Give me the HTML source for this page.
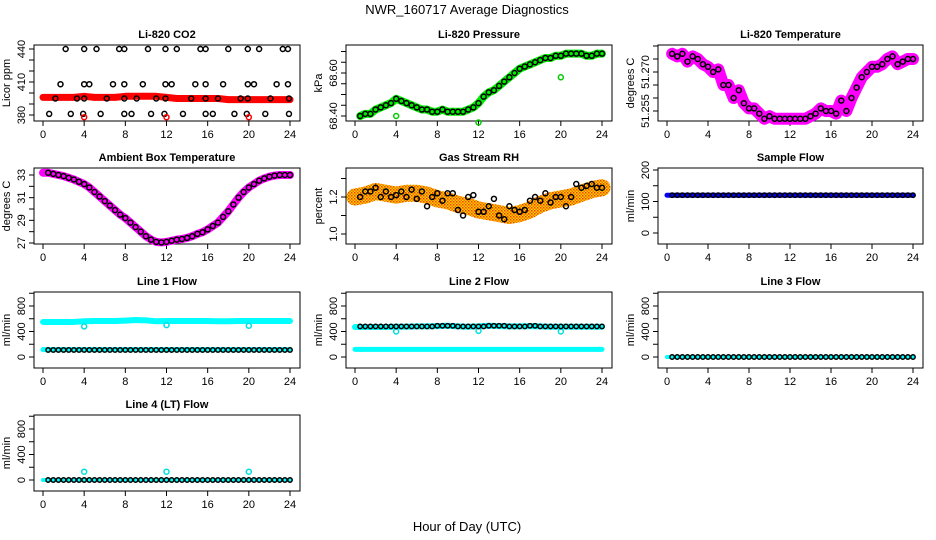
<!DOCTYPE html>
<html><head><meta charset="utf-8"><style>
html,body{margin:0;padding:0;background:#fff;}
svg{display:block;font-family:"Liberation Sans",sans-serif;}
</style></head><body>
<svg id="chart" width="936" height="540" viewBox="0 0 936 540">
<defs>
<pattern id="rhpat" width="3" height="3" patternUnits="userSpaceOnUse"><rect width="3" height="3" fill="#ffd000"/><rect width="1.5" height="1.5" fill="#f04000"/><rect x="1.5" y="1.5" width="1.5" height="1.5" fill="#f07000"/></pattern>
</defs>
<text x="467" y="14" text-anchor="middle" font-size="13">NWR_160717  Average Diagnostics</text>
<text x="467" y="531" text-anchor="middle" font-size="13">Hour of Day (UTC)</text>
</svg>
<script>
// ---- data ----
const halfHours = [0.5,1,1.5,2,2.5,3,3.5,4,4.5,5,5.5,6,6.5,7,7.5,8,8.5,9,9.5,10,10.5,11,11.5,12,12.5,13,13.5,14,14.5,15,15.5,16,16.5,17,17.5,18,18.5,19,19.5,20,20.5,21,21.5,22,22.5,23,23.5,24];
const hours = [0,1,2,3,4,5,6,7,8,9,10,11,12,13,14,15,16,17,18,19,20,21,22,23,24];
const xTicks = [0,4,8,12,16,20,24];

const co2T440 = [2.2,4,5.2,7.4,7.9,10.2,11.9,13,15.3,15.8,18,19.9,21,23.3,23.8];
const co2T410 = [1.7,4,4.5,6.8,7.9,9.7,11.9,12.5,14.8,15.8,17.5,19.9,20.5,22.7,23.8];
const co2T394 = [1.2,3.3,4,6.2,7.9,9.1,11,11.9,14.4,15.8,17,19.2,19.9,22.1,23.9];
const co2T381 = [0.6,2.7,3.9,5.6,7.9,8.6,10.5,11.8,13.6,15.8,16.5,18.6,19.8,21.6,23.9];
const co2Red = [396,396,396,396,397,396,396,396,397,397,397,397,396,395,395,395,395,395,394,394,394,394,394,394,394];
const co2RedOut = [4,12,20];

const pressure = [68.40,68.41,68.41,68.43,68.44,68.45,68.46,68.48,68.47,68.46,68.45,68.44,68.43,68.43,68.42,68.42,68.43,68.42,68.42,68.42,68.42,68.43,68.44,68.46,68.49,68.51,68.52,68.54,68.56,68.58,68.60,68.62,68.63,68.64,68.65,68.66,68.67,68.67,68.68,68.68,68.69,68.69,68.69,68.69,68.68,68.68,68.69,68.69];
const liTemp = [51.277,51.276,51.277,51.274,51.276,51.275,51.273,51.272,51.270,51.271,51.265,51.265,51.260,51.263,51.258,51.256,51.256,51.254,51.252,51.253,51.252,51.252,51.252,51.252,51.252,51.252,51.252,51.253,51.254,51.256,51.255,51.255,51.254,51.259,51.255,51.260,51.264,51.268,51.270,51.272,51.272,51.273,51.275,51.276,51.273,51.274,51.275,51.275];
const ambient = [33.2,33.1,33.0,32.9,32.75,32.6,32.4,32.2,31.9,31.5,31.1,30.7,30.3,29.9,29.5,29.2,28.8,28.4,28.0,27.6,27.3,27.1,27.05,27.1,27.2,27.3,27.35,27.45,27.6,27.8,27.95,28.2,28.5,28.8,29.3,29.8,30.4,31.0,31.5,31.9,32.2,32.5,32.7,32.85,32.95,33.0,33.0,33.0];
const rh = [1.20,1.23,1.23,1.25,1.20,1.23,1.20,1.21,1.23,1.20,1.24,1.19,1.23,1.15,1.20,1.22,1.18,1.22,1.22,1.13,1.10,1.20,1.21,1.12,1.12,1.15,1.19,1.10,1.08,1.15,1.13,1.12,1.13,1.18,1.20,1.18,1.22,1.17,1.20,1.20,1.15,1.20,1.27,1.25,1.26,1.27,1.25,1.25];
const rhBand = [1.20,1.21,1.23,1.22,1.21,1.22,1.22,1.21,1.19,1.18,1.16,1.15,1.13,1.12,1.11,1.10,1.11,1.13,1.16,1.18,1.19,1.20,1.22,1.24,1.25];
const sampleFlow = [120,120,120,120,120,120,120,120,120,120,120,120,120,120,120,120,120,120,120,120,120,120,120,120,120];
const line1High = [550,550,550,550,560,565,565,565,570,580,575,560,565,565,565,565,565,560,560,565,565,565,565,565,565];
const line1Low = [115,115,115,115,115,115,115,115,115,115,115,115,115,115,115,115,115,115,115,115,115,115,115,115,115];
const line1Black = [110,110,110,110,110,110,110,110,110,110,110,110,110,110,110,110,110,110,110,110,110,110,110,110,110];
const line2High = [470,470,470,470,475,475,480,480,485,490,480,475,480,490,485,480,480,485,480,475,475,475,475,475,475];
const line2Low = [120,120,120,120,120,120,120,120,120,120,120,120,120,120,120,120,120,120,120,120,120,120,120,120,120];
const line2Black = [480,480,480,480,480,480,480,480,490,490,480,480,480,490,490,480,480,490,480,480,480,480,480,480,480];
const line3Flow = [0,0,0,0,0,0,0,0,0,0,0,0,0,0,0,0,0,0,0,0,0,0,0,0,0];
const line4Flow = [0,0,0,0,0,0,0,0,0,0,0,0,0,0,0,0,0,0,0,0,0,0,0,0,0];
const outlierHours = [4,12,20];
const line1Out = [480,500,490];
const line2Out = [400,410,400];
const line4Out = [130,130,130];
const pressOutT = [4,12,20];
const pressOut = [68.40,68.37,68.58];

const NS = "http://www.w3.org/2000/svg";
const svg = document.getElementById('chart');
function mk(tag, attrs, parent){ const e=document.createElementNS(NS,tag); for(const k in attrs) e.setAttribute(k,attrs[k]); (parent||svg).appendChild(e); return e; }

const colL=[34,346,658], colR=[300,612,923], rowT=[45,168,292,415], H=76;

function makePanel(cfg){
  const L=colL[cfg.col], R=colR[cfg.col], T=rowT[cfg.row], B=T+H;
  const g = mk('g',{});
  
  
  const xs = t => (L+9) + t*((R-10)-(L+9))/24;
  const ys = v => cfg.p1 + (v-cfg.v1)*(cfg.p2-cfg.p1)/(cfg.v2-cfg.v1);
  const title = mk('text',{x:(L+R)/2,y:T-7,'text-anchor':'middle','font-size':11,'font-weight':'bold'},g);
  title.textContent = cfg.title;
  
  
  const box = mk('rect',{x:L,y:T,width:R-L,height:H,fill:'none',stroke:'#000','stroke-width':1},g);
  
  
  xTicks.forEach(t=>{
    mk('line',{x1:xs(t),x2:xs(t),y1:B,y2:B+5,stroke:'#000'},g);
    const tl = mk('text',{x:xs(t),y:B+17,'text-anchor':'middle','font-size':11},g);
    tl.textContent = t;
    
    
  });
  cfg.yticks.forEach(v=>{ const y=ys(v); if(y>=T-1&&y<=B+1) mk('line',{x1:L-5,x2:L,y1:y,y2:y,stroke:'#000'},g); });
  cfg.ylabels.forEach((lab,i)=>{
    const y=ys(cfg.ylabelVals[i]);
    const tl = mk('text',{x:L-9,y:y,'text-anchor':'middle','font-size':11,transform:`rotate(-90 ${L-9} ${y})`},g);
    tl.textContent = lab;
    
    
  });
  const yt = mk('text',{x:L-24,y:(T+B)/2,'text-anchor':'middle','font-size':11,transform:`rotate(-90 ${L-24} ${(T+B)/2})`},g);
  yt.textContent = cfg.ylab;
  
  
  return {g,xs,ys};
}
function band(p, ts, vals, color, w, name){
  const pts = ts.map((t,i)=>p.xs(t)+','+p.ys(vals[i])).join(' ');
  const pl = mk('polyline',{points:pts,fill:'none',stroke:color,'stroke-width':w,'stroke-linejoin':'round','stroke-linecap':'round'},p.g);
  
  
}
function dots(p, ts, vals, color, name, r){
  ts.forEach((t,i)=>{
    const c = mk('circle',{cx:p.xs(t),cy:p.ys(vals[i]),r:r||2.5,fill:'none',stroke:color,'stroke-width':1.5},p.g);
    
    
  });
}
const range=(a,b,s)=>{const r=[];for(let v=a;v<=b+1e-9;v+=s) r.push(+v.toFixed(4));return r;};

// CO2
let p = makePanel({name:'panel-co2',col:0,row:0,title:'Li-820 CO2',ylab:'Licor ppm',v1:380,p1:115,v2:440,p2:49,yticks:range(380,440,10),ylabels:['380','410','440'],ylabelVals:[380,410,440]});
band(p,hours,co2Red,'#ff0000',7,'co2-band');
dots(p,co2T440,co2T440.map(()=>440),'#000','co2-point');
dots(p,co2T410,co2T410.map(()=>408),'#000','co2-point');
dots(p,co2T394,co2T394.map(()=>395),'#000','co2-point');
dots(p,co2T381,co2T381.map(()=>381),'#000','co2-point');
dots(p,co2RedOut,co2RedOut.map(()=>378),'#ff0000','co2-outlier');

// Pressure
p = makePanel({name:'panel-pressure',col:1,row:0,title:'Li-820 Pressure',ylab:'kPa',v1:68.40,p1:116,v2:68.60,p2:73,yticks:range(68.40,68.70,0.05),ylabels:['68.40','68.60'],ylabelVals:[68.40,68.60]});
band(p,halfHours,pressure,'#00ee00',8,'pressure-band');
dots(p,pressOutT,pressOut,'#00cc00','pressure-outlier');
dots(p,halfHours,pressure,'#000','pressure-point');

// Li temperature
p = makePanel({name:'panel-li-temperature',col:2,row:0,title:'Li-820 Temperature',ylab:'degrees C',v1:51.255,p1:111,v2:51.270,p2:72,yticks:range(51.255,51.280,0.005),ylabels:['51.255','51.270'],ylabelVals:[51.255,51.270]});
band(p,halfHours,liTemp,'#ff00ff',12,'li-temp-band');
dots(p,halfHours,liTemp,'#000','li-temp-point');

// Ambient
p = makePanel({name:'panel-ambient-temperature',col:0,row:1,title:'Ambient Box Temperature',ylab:'degrees C',v1:27,p1:243,v2:33,p2:175,yticks:range(27,33,1),ylabels:['27','29','31','33'],ylabelVals:[27,29,31,33]});
band(p,[0].concat(halfHours),[33.2].concat(ambient),'#ff00ff',8,'ambient-band');
dots(p,halfHours,ambient,'#000','ambient-point');

// RH
p = makePanel({name:'panel-gas-rh',col:1,row:1,title:'Gas Stream RH',ylab:'percent',v1:1.0,p1:234,v2:1.2,p2:197,yticks:range(1.0,1.3,0.1),ylabels:['1.0','1.2'],ylabelVals:[1.0,1.2]});
band(p,hours,rhBand,'url(#rhpat)',17,'rh-band');
dots(p,halfHours,rh,'#000','rh-point');

// Sample flow
p = makePanel({name:'panel-sample-flow',col:2,row:1,title:'Sample Flow',ylab:'ml/min',v1:0,p1:233,v2:200,p2:170,yticks:range(0,200,50),ylabels:['0','100','200'],ylabelVals:[0,100,200]});
band(p,hours,sampleFlow,'#0000ff',5,'sample-flow-band');
dots(p,halfHours,halfHours.map(()=>120),'#000','sample-flow-point',2.2);

const flowTicks = range(0,1000,200);
// Line 1
p = makePanel({name:'panel-line1-flow',col:0,row:2,title:'Line 1 Flow',ylab:'ml/min',v1:0,p1:357,v2:800,p2:306,yticks:flowTicks,ylabels:['0','400','800'],ylabelVals:[0,400,800]});
band(p,hours,line1High,'#00ffff',6,'line1-high-band');
band(p,hours,line1Low,'#00ffff',5,'line1-low-band');
dots(p,outlierHours,line1Out,'#00e0e0','line1-outlier');
dots(p,halfHours,halfHours.map(t=>line1Black[Math.floor(t)]),'#000','line1-point',2.2);

// Line 2
p = makePanel({name:'panel-line2-flow',col:1,row:2,title:'Line 2 Flow',ylab:'ml/min',v1:0,p1:357,v2:800,p2:306,yticks:flowTicks,ylabels:['0','400','800'],ylabelVals:[0,400,800]});
band(p,hours,line2High,'#00ffff',6,'line2-high-band');
band(p,hours,line2Low,'#00ffff',5,'line2-low-band');
dots(p,outlierHours,line2Out,'#00e0e0','line2-outlier');
dots(p,halfHours,halfHours.map(t=>line2Black[Math.floor(t)]),'#000','line2-point',2.2);

// Line 3
p = makePanel({name:'panel-line3-flow',col:2,row:2,title:'Line 3 Flow',ylab:'ml/min',v1:0,p1:357,v2:800,p2:306,yticks:flowTicks,ylabels:['0','400','800'],ylabelVals:[0,400,800]});
band(p,hours,line3Flow,'#00ffff',4,'line3-band');
dots(p,halfHours,halfHours.map(t=>line3Flow[Math.floor(t)]),'#000','line3-point',2.2);

// Line 4
p = makePanel({name:'panel-line4-flow',col:0,row:3,title:'Line 4 (LT) Flow',ylab:'ml/min',v1:0,p1:480,v2:800,p2:429,yticks:flowTicks,ylabels:['0','400','800'],ylabelVals:[0,400,800]});
band(p,hours,line4Flow,'#00ffff',4,'line4-band');
dots(p,outlierHours,line4Out,'#00e0e0','line4-outlier');
dots(p,halfHours,halfHours.map(t=>line4Flow[Math.floor(t)]),'#000','line4-point',2.2);
</script>
</body></html>
